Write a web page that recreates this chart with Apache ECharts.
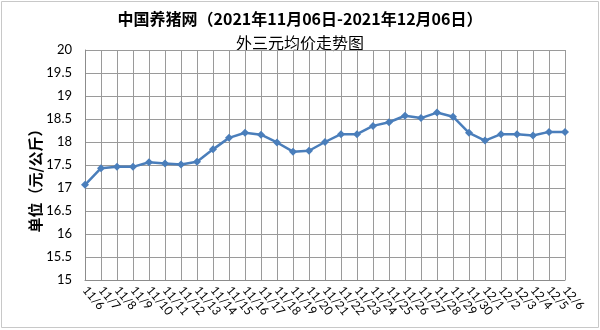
<!DOCTYPE html>
<html>
<head>
<meta charset="utf-8">
<script src="https://cdn.jsdelivr.net/npm/echarts@6/dist/echarts.min.js"></script>
<style>html,body{margin:0;padding:0;background:#fff}#c{width:600px;height:330px}</style>
</head>
<body>
<div id="c"></div>
<script>
const categories = ['11/6','11/7','11/8','11/9','11/10','11/11','11/12','11/13','11/14','11/15','11/16','11/17','11/18','11/19','11/20','11/21','11/22','11/23','11/24','11/25','11/26','11/27','11/28','11/29','11/30','12/1','12/2','12/3','12/4','12/5','12/6'];
const prices = [17.07,17.43,17.46,17.46,17.56,17.53,17.51,17.57,17.84,18.09,18.2,18.16,17.99,17.79,17.81,18.0,18.17,18.17,18.35,18.43,18.57,18.52,18.64,18.55,18.2,18.03,18.17,18.17,18.14,18.22,18.22];
const titleLine1 = '中国养猪网（2021年11月06日-2021年12月06日）';
const titleLine2 = '外三元均价走势图';
const yName = '单位（元/公斤）';

const chart = echarts.init(document.getElementById('c'));
const font = 'Lato, "Noto Sans CJK SC", sans-serif';
chart.setOption({
  animation: false,
  backgroundColor: '#fff',
  graphic: [
    {type:'rect', shape:{x:1.5,y:1.5,width:597,height:326}, style:{fill:'none', stroke:'#c8c8c8', lineWidth:1}},
    {type:'text', left:'center', top:11, style:{text:titleLine1, font:'bold 16px "Noto Sans CJK SC", sans-serif', fill:'#000', textAlign:'center'}, x:-7},
    {type:'text', left:'center', top:35, style:{text:titleLine2, font:'16px "Noto Sans CJK SC", sans-serif', fill:'#000', textAlign:'center'}, x:-6},
    {type:'text', x:35, y:177, rotation:Math.PI/2, style:{text:yName, font:'bold 15px "Noto Sans CJK SC", sans-serif', fill:'#000', align:'center', verticalAlign:'middle'}}
  ],
  grid: {left:85, right:35, top:50, bottom:50, containLabel:false},
  xAxis: {
    type:'category', data:categories, boundaryGap:false,
    axisLine:{lineStyle:{color:'#8c8c8c', width:1}},
    axisTick:{show:false},
    splitLine:{show:true, interval:0, lineStyle:{color:'#9a9a9a', width:1}},
    axisLabel:{interval:0, rotate:-50, color:'#000', fontSize:12, fontFamily:font, margin:8}
  },
  yAxis: {
    type:'value', min:15, max:20, interval:0.5,
    axisLine:{show:true, lineStyle:{color:'#8c8c8c', width:1}},
    axisTick:{show:false},
    splitLine:{show:true, lineStyle:{color:'#9a9a9a', width:1}},
    axisLabel:{color:'#000', fontSize:13, fontFamily:font, margin:13}
  },
  series: [{
    type:'line', data:prices,
    lineStyle:{color:'#4A7EBB', width:2.5},
    itemStyle:{color:'#4A7EBB'},
    symbol:'diamond', symbolSize:8, showSymbol:true
  }]
});
</script>
</body>
</html>
